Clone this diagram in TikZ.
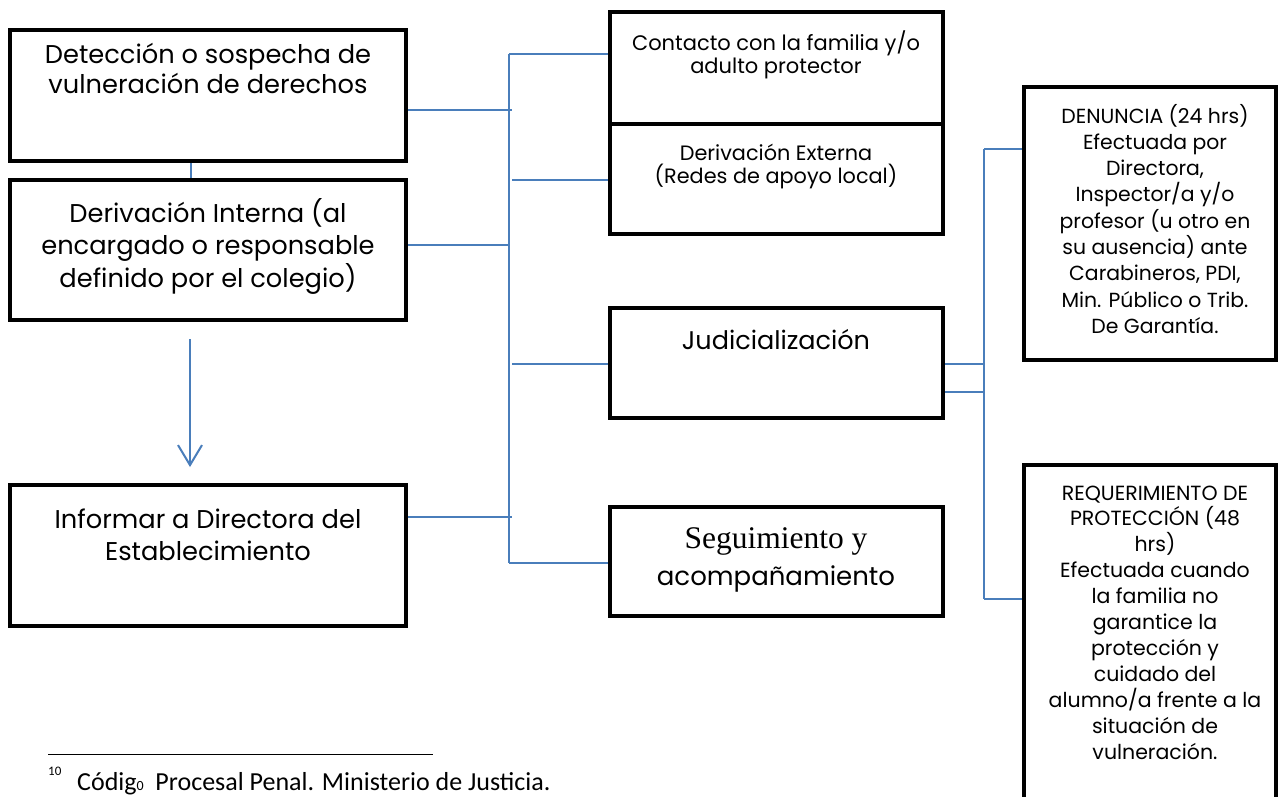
\documentclass[tikz,border=0pt]{standalone}
\usepackage{fontspec}
\setmainfont{Poppins}
\newfontfamily\timesf{Liberation Serif}
\newfontfamily\calib{Carlito}
\usetikzlibrary{arrows.meta}
\definecolor{conn}{RGB}{74,126,187}
\pgfdeclarelayer{back}
\pgfdeclarelayer{bg}
\pgfsetlayers{back,bg,main}
\newcommand{\fs}[2]{\fontsize{#1}{#2}\selectfont}
\newcommand{\st}{\rule{0pt}{1em}}
\begin{document}
\begin{tikzpicture}[x=1pt,y=-1pt,
  box/.style={draw=black, line width=4.5pt, inner sep=0pt, outer sep=0pt, rectangle},
  txt/.style={inner sep=0pt, outer sep=0pt, align=center, anchor=north},
  link/.style={draw=conn, line width=2pt},
]
\clip (0,0) rectangle (1279,796);
\begin{pgfonlayer}{back}
\fill[white] (0,0) rectangle (1279,796);
\end{pgfonlayer}

% boxes
\node[box, minimum width=396pt, minimum height=131pt] (A) at (208,95.5) {};
\node[box, minimum width=396pt, minimum height=140pt] (B) at (208,250) {};
\node[box, minimum width=396pt, minimum height=141pt] (C) at (208,555.5) {};
\node[box, minimum width=333pt, minimum height=112pt] (D) at (776.5,68) {};
\node[box, minimum width=333pt, minimum height=110pt] (E) at (776.5,179) {};
\node[box, minimum width=333pt, minimum height=110pt] (F) at (776.5,363) {};
\node[box, minimum width=333pt, minimum height=109pt] (G) at (776.5,561.5) {};
\node[box, minimum width=252pt, minimum height=273pt] (H) at (1150,223.5) {};
\node[box, minimum width=252pt, minimum height=345pt] (I) at (1150,637.5) {};

% texts
\node[txt, font=\fs{25.7}{30}] (At) at (208,37.3) {\st Detección o sospecha de\\vulneración de derechos};
\node[txt, font=\fs{25.7}{32.5}] (Bt) at (208,196.3) {\st Derivación Interna (al\\encargado o responsable\\definido por el colegio)};
\node[txt, font=\fs{25.7}{32}] (Ct) at (208,502.3) {\st Informar a Directora del\\Establecimiento};
\node[txt, font=\fs{21}{23}] (Dt) at (776,29) {\st Contacto con la familia y/o\\adulto protector};
\node[txt, font=\fs{20.8}{23}] (Et) at (776,139.2) {\st Derivación Externa\\(Redes de apoyo local)};
\node[inner sep=0pt, anchor=base, font=\fs{25.5}{29}] (Ft) at (776,349) {Judicialización};
\node[inner sep=0pt, anchor=base, font=\timesf\fs{31.5}{35}] (Gt1) at (776,548) {Seguimiento y};
\node[inner sep=0pt, anchor=base, font=\fs{26}{30}] (Gt2) at (776,585) {acompañamiento};
\node[txt, font=\fs{20.4}{26.3}] (Ht) at (1155,102.6) {\st DENUNCIA (24 hrs)\\Efectuada por\\Directora,\\Inspector/a y/o\\profesor (u otro en\\su ausencia) ante\\Carabineros, PDI,\\Min. Público o Trib.\\De Garantía.};
\node[txt, font=\fs{20.5}{25.9}] (It) at (1155,479.5) {\st REQUERIMIENTO DE\\PROTECCIÓN (48\\hrs)\\Efectuada cuando\\la familia no\\garantice la\\protección y\\cuidado del\\alumno/a frente a la\\situación de\\vulneración.};

% coordinates for connector junctions
\coordinate (t1) at (509,54);
\coordinate (t2) at (509,563);
\coordinate (a1) at (512,110);
\coordinate (e1) at (512,180);
\coordinate (b1) at (509,245);
\coordinate (f1) at (512,364);
\coordinate (c1) at (512,517);
\coordinate (r1) at (984,149);
\coordinate (r2) at (984,599);
\coordinate (j1) at (984,364);
\coordinate (j2) at (984,392);

\begin{pgfonlayer}{bg}
\draw[link] ([xshift=-17pt]A.south) -- ([xshift=-17pt]B.north);
\draw[link] (t1) -- (t2);
\draw[link] (t1) -- (D.west |- t1);
\draw[link] (A.east |- a1) -- (a1);
\draw[link] (e1) -- (E.west |- e1);
\draw[link] (B.east |- b1) -- (b1);
\draw[link] (f1) -- (F.west |- f1);
\draw[link] (C.east |- c1) -- (c1);
\draw[link] (t2) -- (G.west |- t2);
\draw[link] (r1) -- (r2);
\draw[link] (r1) -- (H.west |- r1);
\draw[link] (r2) -- (I.west |- r2);
\draw[link] (F.east |- j1) -- (j1);
\draw[link] (F.east |- j2) -- (j2);
\end{pgfonlayer}

% arrow
\draw[link, -{Straight Barb[length=20pt, width=24pt, line width=2pt]}] ([xshift=-18pt, yshift=-19pt]B.south) -- ([xshift=-18pt, yshift=18pt]C.north);

% footnote
\coordinate (fl1) at (48,754);
\coordinate (fl2) at (433,754);
\draw[line width=1pt] (fl1) -- (fl2);
\node[inner sep=0pt, anchor=base west, font=\calib\fs{13}{15}] (fsup) at (48,775) {10};
\node[inner sep=0pt, anchor=base west, font=\calib\fs{26}{30}] (ftext) at (77,790) {Códig{\fs{14}{16}0}\ \ Procesal Penal. Ministerio de Justicia.};
\end{tikzpicture}
\end{document}
